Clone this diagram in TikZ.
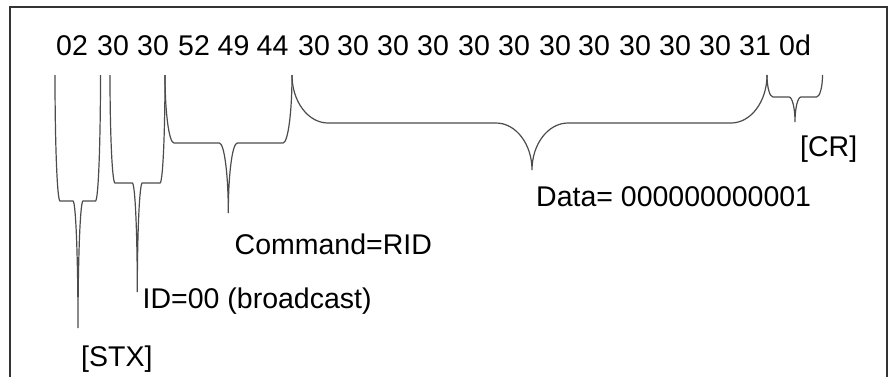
\documentclass[tikz,border=0pt]{standalone}
\usepackage{fontspec}
\setmainfont{Liberation Sans}
\newcommand{\mybrace}[8]{% #1 name, #2 x1, #3 x2, #4 tip x, #5 top, #6 bar, #7 end, #8 rx
  \coordinate (#1-l) at (#2,#5);
  \coordinate (#1-r) at (#3,#5);
  \coordinate (#1-tip) at (#4,#7);
  \draw[bracestyle] (#1-l) .. controls (#2,{#5+0.552*(#6-#5)}) and ({#2+0.448*#8},#6) .. ({#2+#8},#6)
    -- ({#4-#8},#6) .. controls ({#4-0.448*#8},#6) and (#4,{#7-0.552*(#7-#6)}) .. (#1-tip)
    (#1-r) .. controls (#3,{#5+0.552*(#6-#5)}) and ({#3-0.448*#8},#6) .. ({#3-#8},#6)
    -- ({#4+#8},#6) .. controls ({#4+0.448*#8},#6) and (#4,{#7-0.552*(#7-#6)}) .. (#1-tip);
}
\begin{document}
\begin{tikzpicture}[x=1pt,y=-1pt,
  bracestyle/.style={draw=black!70, line width=1.2pt},
  tok/.style={anchor=base west, inner sep=0pt, font=\fontsize{28.5}{32}\selectfont},
  lab/.style={anchor=base west, inner sep=0pt, font=\fontsize{28.5}{32}\selectfont}]
\useasboundingbox (0,0) rectangle (888,376);
\clip (0,0) rectangle (888,376);
\fill[white] (0,0) rectangle (888,376);
\draw[draw=black!80, line width=2pt] (10,7) rectangle (886.5,400);
% byte tokens
\foreach \i/\x/\t in {1/56/02, 2/97/30, 3/137/30, 4/178/52, 5/217.5/49, 6/256.5/44,
  7/298/30, 8/337/30, 9/377/30, 10/417/30, 11/458/30, 12/498/30, 13/539/30,
  14/578/30, 15/619/30, 16/659/30, 17/699/30, 18/739/31, 19/779/0d}
  \node[tok] (t\i) at (\x,55) {\t};
% braces
\mybrace{stx}{55}{100.5}{78}{75}{201}{328}{5}
\mybrace{id}{110}{165}{137.3}{75}{183}{292}{5}
\mybrace{cmd}{165}{292}{228.3}{75}{143}{213}{9}
\mybrace{data}{292}{767}{532}{75}{123}{170}{36}
\mybrace{cr}{767}{822.5}{795}{75}{97}{122}{6}
% labels
\node[lab] (lstx) at (81,366) {[STX]};
\node[lab] (lid) at (142.5,308) {ID=00 (broadcast)};
\node[lab] (lcmd) at (234.5,254.5) {Command=RID};
\node[lab] (ldata) at (536,206.5) {Data= 000000000001};
\node[lab] (lcr) at (800,156) {[CR]};
\end{tikzpicture}
\end{document}
